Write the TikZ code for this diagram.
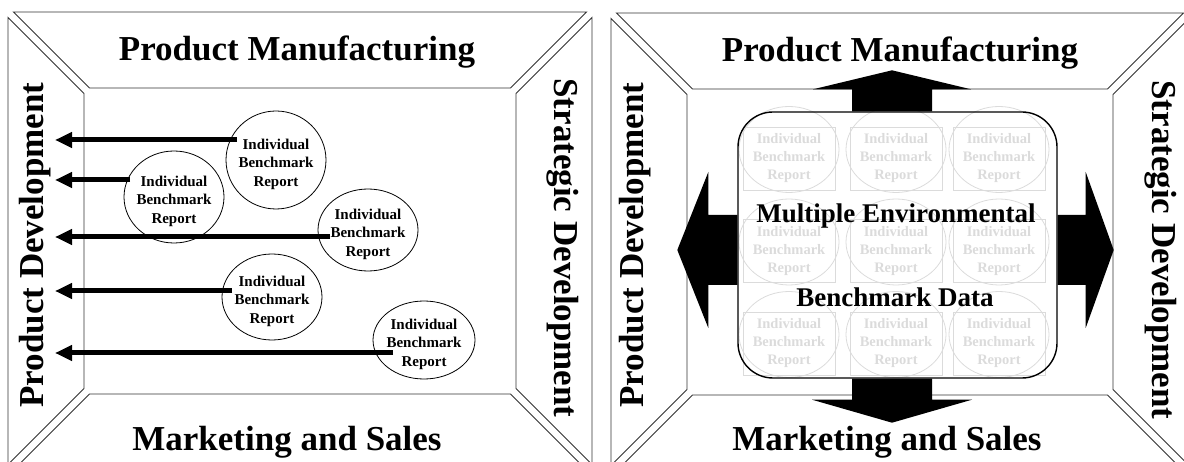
\documentclass[tikz,border=0pt]{standalone}
\usepackage{fontspec}
\setmainfont{Liberation Serif}
\usetikzlibrary{arrows.meta,calc,positioning,shapes.geometric}

\definecolor{bandline}{gray}{0.2}
\definecolor{ghostline}{gray}{0.86}
\definecolor{ghostfont}{gray}{0.86}

\tikzset{
  band/.style={draw=bandline, line width=0.9pt},
  heading/.style={font=\fontsize{35}{40}\selectfont\bfseries, inner sep=0pt, anchor=base},
  report/.style={draw, ellipse, line width=0.8pt, inner sep=0pt, minimum width=100pt,
    label={[reporttext]center:{Individual\\Benchmark\\Report}}},
  reporttext/.style={font=\fontsize{15}{18.5}\selectfont\bfseries, align=center, inner sep=0pt, yshift=-4pt},
  pointer/.style={line width=5pt, -{Triangle[length=17pt,width=15pt]}},
  ghost/.style={draw=ghostline, ellipse, line width=0.8pt, minimum width=100pt, minimum height=86pt, inner sep=0pt},
  ghostlabel/.style={draw=ghostline, line width=0.6pt, minimum width=92pt, minimum height=63pt, inner sep=0pt,
    align=center, text=ghostfont, font=\fontsize{14.5}{18}\selectfont\bfseries},
  pooltext/.style={font=\fontsize{27}{30}\selectfont\bfseries, inner sep=0pt, anchor=base},
}

\begin{document}
\begin{tikzpicture}[x=1pt, y=-1pt]
  \useasboundingbox (0,0) rectangle (1184,462);
  \clip (0,0) rectangle (1184,462);

  % the four bands of each panel
  \foreach \L/\T/\R/\B in {8/12/592/470, 611/13/1189/471} {
    \draw[band] (\L+5.5,\T) -- (\R-5.5,\T) -- (\R-81.5,\T+76) -- (\L+81.5,\T+76) -- cycle;
    \draw[band] (\L+5.5,\B) -- (\R-5.5,\B) -- (\R-81.5,\B-76) -- (\L+81.5,\B-76) -- cycle;
    \draw[band] (\L,\T+5.5) -- (\L+76,\T+81.5) -- (\L+76,\B-81.5) -- (\L,\B-5.5) -- cycle;
    \draw[band] (\R,\T+5.5) -- (\R-76,\T+81.5) -- (\R-76,\B-81.5) -- (\R,\B-5.5) -- cycle;
  }

  % headings
  \node[heading] (pm1) at (297,61) {Product Manufacturing};
  \node[heading] (ms1) at (287,450) {Marketing and Sales};
  \node[heading, rotate=90] (pd1) at (43,245) {Product Development};
  \node[heading, rotate=-90] (sd1) at (554,248) {Strategic Development};
  \node[heading] (pm2) at (900,62) {Product Manufacturing};
  \node[heading] (ms2) at (887,450) {Marketing and Sales};
  \node[heading, rotate=90] (pd2) at (643,245) {Product Development};
  \node[heading, rotate=-90] (sd2) at (1152,250) {Strategic Development};

  % left panel: single reports
  \node[report, minimum height=98pt] (r1) at (276,160) {};
  \node[report, minimum height=92pt] (r2) at (174,197) {};
  \node[report, minimum height=82pt] (r3) at (368,230) {};
  \node[report, minimum height=86pt] (r4) at (272,297) {};
  \node[report, minimum height=78pt, minimum width=102pt] (r5) at (424,340) {};
  \coordinate (pdtip) at (55,0);
  \foreach \n/\dx/\dy in {1/-39/-20, 2/-44/-17, 3/-38/7, 4/-40/-6, 5/-31/13} {
    \coordinate (s\n) at ($(r\n)+(\dx,\dy)$);
    \draw[pointer] (s\n) -- (s\n -| pdtip);
  }

  % right panel: pooled reports
  \foreach \i/\cx in {1/789, 2/896, 3/999}
    \foreach \j/\cy in {1/158.5, 2/251, 3/343.5} {
      \node[ghost] (g\i\j) at (\cx,\cy-9) {};
      \node[ghostlabel] (gl\i\j) at (\cx,\cy) {Individual\\Benchmark\\Report};
    }
  \node[draw, line width=1.4pt, rounded corners=35pt, minimum width=319pt, minimum height=266pt] (pool) at (897.5,245) {};
  \node[pooltext] (multi) at (896,223) {Multiple Environmental};
  \node[pooltext] (bdata) at (895,307) {Benchmark Data};

  \coordinate (upbase) at ($(pool.north)+(-5.5,0)$);
  \coordinate (downbase) at ($(pool.south)+(-5.5,0)$);
  \coordinate (leftbase) at ($(pool.west)+(0,5)$);
  \coordinate (rightbase) at ($(pool.east)+(0,5)$);
  \fill (upbase) ++(-40,0) -- ++(0,-22) -- ++(-39,0) -- ++(79,-19) -- ++(79,19) -- ++(-39,0) -- ++(0,22) -- cycle;
  \fill (downbase) ++(-40,0) -- ++(0,21) -- ++(-40,0) -- ++(80,23) -- ++(80,-23) -- ++(-40,0) -- ++(0,-21) -- cycle;
  \fill (leftbase) ++(0,-35) -- ++(-29,0) -- ++(0,-43) -- ++(-31,78) -- ++(31,78) -- ++(0,-43) -- ++(29,0) -- cycle;
  \fill (rightbase) ++(0,-35) -- ++(28,0) -- ++(0,-43) -- ++(28,78) -- ++(-28,78) -- ++(0,-43) -- ++(-28,0) -- cycle;
\end{tikzpicture}
\end{document}
